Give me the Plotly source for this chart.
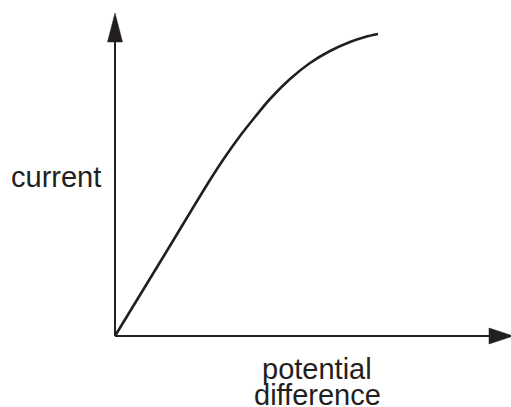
import plotly.graph_objects as go

# curve data (arbitrary units: potential difference vs current)
pd_values = [0, 50, 95, 110, 125, 140, 155, 175, 195, 215, 235, 250, 263]
current_values = [0, 82, 156, 179, 200, 219, 237, 257, 273, 285, 294, 299, 302]

x_label_lines = ["potential", "difference"]
y_label = "current"

INK = "#231f20"

fig = go.Figure()
fig.add_trace(go.Scatter(
    x=pd_values, y=current_values, mode="lines",
    line=dict(color=INK, width=2.6, shape="spline", smoothing=1.0),
    hoverinfo="skip", showlegend=False,
))

shapes = [
    # y axis line
    dict(type="line", x0=0, y0=0, x1=0, y1=300, xref="x", yref="y",
         line=dict(color=INK, width=2)),
    # y axis arrowhead
    dict(type="path", path="M -7.5 294 L 7.5 294 L 0 323 Z", xref="x", yref="y",
         fillcolor=INK, line=dict(color=INK, width=0.5)),
    # x axis line
    dict(type="line", x0=0, y0=0, x1=380, y1=0, xref="x", yref="y",
         line=dict(color=INK, width=2)),
    # x axis arrowhead
    dict(type="path", path="M 374 8 L 374 -8 L 398 0 Z", xref="x", yref="y",
         fillcolor=INK, line=dict(color=INK, width=0.5)),
]

font = dict(family="Liberation Sans, Arial, sans-serif", size=29, color=INK)
common = dict(xref="x", yref="y", yanchor="middle", showarrow=False, font=font,
              borderpad=0, borderwidth=0)
annotations = [
    dict(text=y_label, x=-104, y=159, xanchor="left", **common),
    dict(text=x_label_lines[0], x=202, y=-33, xanchor="center", **common),
    dict(text=x_label_lines[1], x=202, y=-59, xanchor="center", **common),
]

fig.update_layout(
    width=511, height=407,
    margin=dict(l=0, r=0, t=0, b=0, pad=0),
    paper_bgcolor="white", plot_bgcolor="white",
    xaxis=dict(range=[-115, 396], visible=False, fixedrange=True),
    yaxis=dict(range=[-71, 336], visible=False, fixedrange=True),
    shapes=shapes, annotations=annotations,
    showlegend=False,
)

fig.write_html("out.html", config={"displayModeBar": False},
               post_script="document.body.style.margin='0';")
